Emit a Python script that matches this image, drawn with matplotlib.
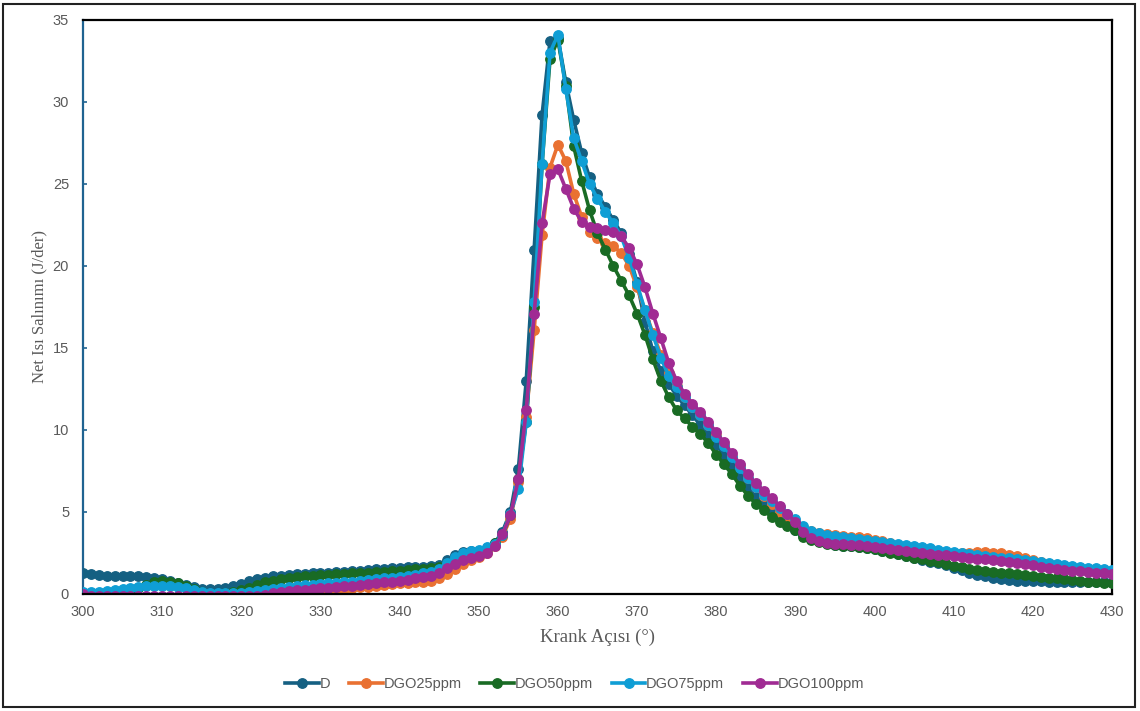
import numpy as np
import matplotlib.pyplot as plt
from matplotlib.lines import Line2D
from matplotlib.patches import Rectangle

# crank angle, one reading per degree
crank_angle = list(range(300, 431))

d_vals = [
    1.25, 1.2, 1.15, 1.12, 1.1, 1.1, 1.1, 1.08, 1.05, 1.0,
    0.92, 0.82, 0.68, 0.52, 0.4, 0.32, 0.28, 0.28, 0.35, 0.48,
    0.62, 0.78, 0.9, 1.0, 1.07, 1.12, 1.17, 1.2, 1.22, 1.25,
    1.27, 1.3, 1.33, 1.36, 1.4, 1.43, 1.46, 1.5, 1.53, 1.56,
    1.6, 1.62, 1.63, 1.65, 1.68, 1.78, 2.05, 2.4, 2.55, 2.6,
    2.65, 2.8, 3.1, 3.8, 5.0, 7.6, 13.0, 21.0, 29.2, 33.7,
    33.9, 31.2, 28.9, 26.9, 25.4, 24.4, 23.6, 22.8, 22.0, 20.7,
    19.0, 16.6, 14.8, 13.6, 12.8, 12.1, 11.5, 10.9, 10.3, 9.7,
    9.1, 8.5, 7.8, 7.1, 6.5, 5.9, 5.4, 5.0, 4.6, 4.2,
    3.9, 3.6, 3.35, 3.2, 3.1, 3.0, 2.95, 2.9, 2.85, 2.8,
    2.75, 2.65, 2.55, 2.45, 2.32, 2.2, 2.08, 1.97, 1.86, 1.75,
    1.6, 1.45, 1.3, 1.18, 1.08, 1.0, 0.93, 0.87, 0.82, 0.8,
    0.78, 0.77, 0.76, 0.75, 0.74, 0.73, 0.72, 0.71, 0.7, 0.7,
    0.7,
]

dgo25_vals = [
    0.02, -0.02, -0.1, -0.15, -0.2, -0.25, -0.25, -0.25, -0.25, -0.25,
    -0.25, -0.25, -0.25, -0.25, -0.25, -0.25, -0.25, -0.25, -0.25, -0.25,
    -0.25, -0.25, -0.25, -0.2, -0.15, -0.1, -0.03, 0.02, 0.06, 0.1,
    0.15, 0.2, 0.25, 0.3, 0.35, 0.4, 0.45, 0.5, 0.55, 0.6,
    0.64, 0.67, 0.7, 0.73, 0.8, 0.95, 1.2, 1.5, 1.8, 2.05,
    2.25, 2.5, 2.9, 3.5, 4.6, 6.8, 10.8, 16.1, 21.9, 26.0,
    27.4, 26.4, 24.4, 23.0, 22.1, 21.7, 21.4, 21.2, 20.8, 20.0,
    18.7, 17.3, 15.9, 14.6, 13.5, 12.7, 12.0, 11.4, 10.9, 10.3,
    9.7, 9.1, 8.4, 7.8, 7.1, 6.5, 6.0, 5.5, 5.0, 4.6,
    4.3, 4.0, 3.85, 3.72, 3.65, 3.6, 3.55, 3.5, 3.45, 3.4,
    3.3, 3.2, 3.1, 2.95, 2.82, 2.75, 2.65, 2.55, 2.45, 2.4,
    2.42, 2.48, 2.52, 2.55, 2.55, 2.52, 2.47, 2.4, 2.3, 2.18,
    2.05, 1.93, 1.83, 1.74, 1.65, 1.57, 1.5, 1.43, 1.37, 1.32,
    1.28,
]

dgo50_vals = [
    0.05, 0.03, 0.0, -0.05, -0.1, 0.02, 0.15, 0.35, 0.55, 0.7,
    0.78, 0.75, 0.65, 0.5, 0.3, 0.12, 0.02, 0.0, 0.05, 0.12,
    0.22, 0.38, 0.55, 0.7, 0.82, 0.9, 0.97, 1.03, 1.08, 1.12,
    1.15, 1.17, 1.2, 1.22, 1.25, 1.28, 1.3, 1.33, 1.37, 1.4,
    1.43, 1.47, 1.5, 1.53, 1.56, 1.62, 1.85, 2.15, 2.35, 2.45,
    2.5, 2.75, 3.1, 3.6, 4.8, 7.0, 10.5, 17.5, 26.2, 32.6,
    33.8, 31.0, 27.3, 25.2, 23.4, 22.0, 21.0, 20.0, 19.1, 18.2,
    17.1, 15.8, 14.3, 13.0, 12.0, 11.2, 10.7, 10.2, 9.75, 9.2,
    8.5, 7.9, 7.3, 6.6, 6.0, 5.5, 5.1, 4.7, 4.4, 4.15,
    3.9, 3.5, 3.3, 3.15, 3.05, 3.0, 2.95, 2.9, 2.85, 2.8,
    2.72, 2.62, 2.52, 2.42, 2.32, 2.22, 2.12, 2.02, 1.92, 1.82,
    1.72, 1.63, 1.55, 1.47, 1.4, 1.35, 1.3, 1.25, 1.2, 1.15,
    1.1, 1.05, 1.0, 0.95, 0.9, 0.85, 0.8, 0.76, 0.72, 0.68,
    0.64,
]

dgo75_vals = [
    0.1, 0.12, 0.15, 0.2, 0.25, 0.3, 0.36, 0.42, 0.46, 0.48,
    0.48, 0.46, 0.42, 0.35, 0.25, 0.15, 0.08, 0.05, 0.03, 0.03,
    0.05, 0.1, 0.17, 0.25, 0.32, 0.38, 0.43, 0.48, 0.52, 0.56,
    0.6, 0.64, 0.68, 0.72, 0.76, 0.8, 0.85, 0.9, 0.95, 1.0,
    1.06, 1.12, 1.18, 1.25, 1.35, 1.55, 1.9, 2.25, 2.5, 2.65,
    2.7, 2.85, 3.05, 3.6, 4.9, 6.4, 10.5, 17.8, 26.2, 33.0,
    34.1, 30.8, 27.8, 26.4, 25.0, 24.1, 23.3, 22.6, 21.8, 20.5,
    18.9, 17.3, 15.8, 14.4, 13.3, 12.6, 12.0, 11.4, 10.9, 10.3,
    9.6, 9.0, 8.35, 7.7, 7.05, 6.5, 6.05, 5.65, 5.25, 4.9,
    4.55, 4.15, 3.85, 3.7, 3.6, 3.52, 3.46, 3.4, 3.35, 3.3,
    3.25, 3.18, 3.12, 3.05, 2.98, 2.92, 2.85, 2.78, 2.71, 2.64,
    2.57, 2.5, 2.44, 2.38, 2.32, 2.27, 2.22, 2.17, 2.12, 2.06,
    2.0, 1.94, 1.88, 1.82, 1.76, 1.71, 1.66, 1.61, 1.56, 1.52,
    1.48,
]

dgo100_vals = [
    -0.02, -0.1, -0.1, -0.1, -0.1, -0.1, -0.1, -0.1, -0.1, -0.1,
    -0.1, -0.1, -0.1, -0.1, -0.1, -0.1, -0.1, -0.1, -0.1, -0.1,
    -0.1, -0.1, -0.1, -0.05, 0.05, 0.12, 0.18, 0.22, 0.26, 0.3,
    0.34, 0.38, 0.42, 0.46, 0.5, 0.55, 0.6, 0.65, 0.7, 0.76,
    0.82, 0.88, 0.95, 1.02, 1.12, 1.3, 1.58, 1.85, 2.05, 2.2,
    2.3, 2.5, 2.9, 3.65, 4.8, 7.0, 11.2, 17.1, 22.6, 25.6,
    25.9, 24.7, 23.5, 22.7, 22.4, 22.3, 22.2, 22.1, 21.8, 21.1,
    20.1, 18.7, 17.1, 15.6, 14.1, 13.0, 12.2, 11.6, 11.1, 10.5,
    9.85, 9.24, 8.57, 7.92, 7.3, 6.74, 6.3, 5.88, 5.37, 4.87,
    4.4, 3.8, 3.4, 3.22, 3.12, 3.07, 3.03, 3.0, 2.96, 2.92,
    2.87, 2.81, 2.75, 2.69, 2.62, 2.56, 2.5, 2.45, 2.4, 2.35,
    2.3, 2.26, 2.21, 2.16, 2.11, 2.06, 2.0, 1.94, 1.88, 1.81,
    1.74, 1.67, 1.6, 1.54, 1.48, 1.43, 1.38, 1.33, 1.29, 1.25,
    1.22,
]

series_names = ["D", "DGO25ppm", "DGO50ppm", "DGO75ppm", "DGO100ppm"]
series_vals = [d_vals, dgo25_vals, dgo50_vals, dgo75_vals, dgo100_vals]
series_colors = ["#156082", "#E97132", "#196B24", "#0F9ED5", "#A02B93"]

x_ticks = list(range(300, 431, 10))
y_ticks = [0, 5, 10, 15, 20, 25, 30, 35]

tick_gray = "#595959"
sans = ["Liberation Sans", "DejaVu Sans"]
narrow = ["Liberation Sans Narrow", "Liberation Sans"]

fig = plt.figure(figsize=(11.4, 7.11), dpi=100)
ax = fig.add_axes([0.0728, 0.1646, 0.9026, 0.8073])

for name, vals, col in zip(series_names, series_vals, series_colors):
    ax.plot(crank_angle, vals, color=col, lw=2.6, marker="o", ms=6.8,
            label=name, solid_joinstyle="round", zorder=3)

ax.set_xlim(300, 430)
ax.set_ylim(0, 35)
ax.set_xticks(x_ticks)
ax.set_yticks(y_ticks)

for side in ["top", "right", "bottom"]:
    ax.spines[side].set_color("black")
    ax.spines[side].set_linewidth(1.6)
ax.spines["left"].set_color("#1f6391")
ax.spines["left"].set_linewidth(1.6)
ax.spines["bottom"].set_zorder(4)

ax.tick_params(axis="x", length=0, pad=8, labelsize=10.5, labelcolor=tick_gray)
ax.tick_params(axis="y", direction="in", length=3, width=1.2, color="#1f6391",
               pad=10, labelsize=10.5, labelcolor=tick_gray)
for lbl in ax.get_xticklabels() + ax.get_yticklabels():
    lbl.set_family(sans)

ax.set_xlabel("Krank Açısı (°)", family="Liberation Serif", fontsize=13.5,
              color=tick_gray, labelpad=7)
ax.set_ylabel("Net Isı Salınımı (J/der)", family="Liberation Serif", fontsize=12,
              color=tick_gray, labelpad=4)

handles = [Line2D([0], [0], color=c, lw=2.6, marker="o", ms=6.8)
           for c in series_colors]
fig.legend(handles, series_names, loc="center", bbox_to_anchor=(0.504, 0.038),
           ncol=5, frameon=False, handlelength=2.3, handletextpad=0.05,
           columnspacing=1.3, prop={"family": narrow, "size": 10.5},
           labelcolor=tick_gray)

# outer frame round the whole chart
fig.patches.append(Rectangle((0.003, 0.005), 0.993, 0.99, transform=fig.transFigure,
                             fill=False, edgecolor="#222222", lw=1.5))

fig.savefig("out.png", dpi=100)
